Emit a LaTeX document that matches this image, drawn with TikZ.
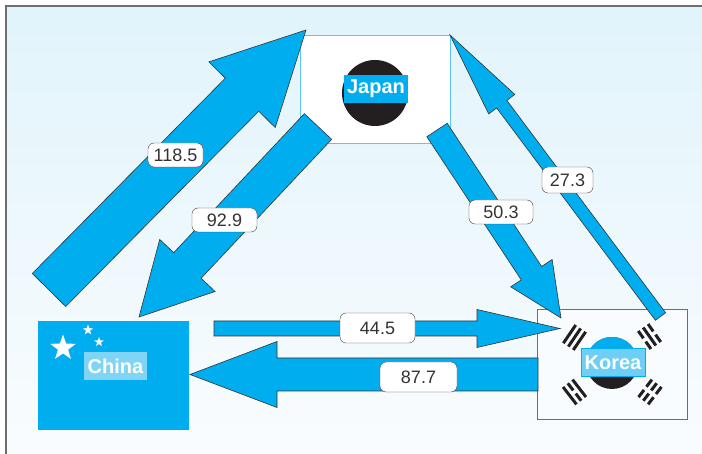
\documentclass[tikz,border=0pt]{standalone}
\usepackage{fontspec}
\setmainfont{Liberation Sans}
\usetikzlibrary{calc,shapes.geometric}
\definecolor{tradecyan}{HTML}{00AEEF}
\definecolor{namecyan}{HTML}{6DCFF6}
\definecolor{chinaname}{HTML}{80D5F7}
\definecolor{japanedge}{HTML}{5CC8F2}
\definecolor{inkblack}{HTML}{231F20}
\definecolor{edgegray}{HTML}{6D6E71}
\definecolor{bgtop}{HTML}{E1F4FB}
\definecolor{bgbottom}{HTML}{F9FCFE}

% block arrow: tail, tip, half shaft, half head, head length
\newcommand{\tradeflow}[5]{%
  \coordinate (neck) at ($(#2)!#5!(#1)$);
  \draw[flow] ($(#1)!#3!90:(#2)$) -- ($(neck)!#3!-90:(#1)$) -- ($(neck)!#4!-90:(#1)$) -- (#2)
    -- ($(neck)!#4!90:(#1)$) -- ($(neck)!#3!90:(#1)$) -- ($(#1)!#3!-90:(#2)$) -- cycle;}

\begin{document}
\begin{tikzpicture}[x=1pt, y=-1pt,
    flow/.style={fill=tradecyan, draw=black!80, line width=0.6pt, line join=miter},
    val/.style={draw=black!75, fill=white, text=black!80, rounded corners=6pt,
      font=\fontsize{18}{18}\selectfont, inner sep=0pt, minimum height=24pt},
    flagname/.style={text=white, font=\bfseries\fontsize{20}{20}\selectfont,
      inner xsep=3.5pt, inner ysep=0pt, minimum height=28pt},
    bars/.style={draw=inkblack, line width=3pt}]
	\useasboundingbox (0,0) rectangle (702,454);
	\shade[top color=bgtop, bottom color=bgbottom] (6,6) rectangle (702,454);
	\draw[edgegray, line width=1.2pt] (6,454) -- (6,6) -- (702,6);

	% flags
	\node[draw=japanedge, fill=white, line width=1pt, minimum width=150pt, minimum height=108pt] (japan) at (375,90) {};
	\node[circle, fill=inkblack, inner sep=0pt, minimum size=66pt] (sun) at (375,93) {};

	\node[fill=tradecyan, minimum width=151pt, minimum height=109pt] (china) at (113.5,375.5) {};
	\node[star, star points=5, star point ratio=2.5, fill=white, inner sep=0pt, minimum size=27pt] (bigstar) at (63,348) {};
	\node[star, star points=5, star point ratio=2.5, fill=white, inner sep=0pt, minimum size=11pt] (star1) at (88,330) {};
	\node[star, star points=5, star point ratio=2.5, fill=white, inner sep=0pt, minimum size=10pt] (star2) at (99,342) {};

	\node[draw=edgegray, fill=bgbottom, line width=0.8pt, minimum width=150pt, minimum height=110pt] (korea) at (612,364) {};
	\node[circle, fill=inkblack, inner sep=0pt, minimum size=52pt] (taeguk) at (612,363) {};
	\begin{scope}
		\clip (taeguk.west) rectangle (taeguk.north -| taeguk.east);
		\fill[tradecyan] (taeguk) circle[radius=26pt];
	\end{scope}
	\foreach \cx/\cy/\ang/\ga/\gb/\gc in {574.5/337.5/55.8/0/0/0, 649.5/336.5/-54.8/2/0/2,
	    574.5/392/-52.3/0/2/0, 650/392/52.7/2/2/2}{
		\begin{scope}[shift={(\cx,\cy)}, rotate=\ang]
			\foreach \off/\gap in {-6/\ga, 0/\gb, 6/\gc}
				\draw[bars] (-11,\off) -- (-\gap,\off) (\gap,\off) -- (11,\off);
		\end{scope}
	}

	% trade arrows
	\coordinate (cnjp-a) at (49,290);    \coordinate (cnjp-b) at (306,30);
	\coordinate (jpcn-a) at (318,126.5); \coordinate (jpcn-b) at (139,317);
	\coordinate (jpkr-a) at (437,130);   \coordinate (jpkr-b) at (561,318);
	\coordinate (krjp-a) at (660.5,316.5); \coordinate (krjp-b) at (450,35);
	\coordinate (cnkr-a) at (214,328.5); \coordinate (cnkr-b) at (560,328.5);
	\coordinate (krcn-a) at (538,374.5); \coordinate (krcn-b) at (190,374.5);
	\tradeflow{cnjp-a}{cnjp-b}{23.5pt}{46.7pt}{91pt}
	\tradeflow{jpcn-a}{jpcn-b}{18.75pt}{38pt}{70.7pt}
	\tradeflow{jpkr-a}{jpkr-b}{12.2pt}{24.8pt}{53.7pt}
	\tradeflow{krjp-a}{krjp-b}{6.35pt}{16.3pt}{86.4pt}
	\tradeflow{cnkr-a}{cnkr-b}{7.5pt}{19pt}{83pt}
	\tradeflow{krcn-a}{krcn-b}{16.5pt}{33pt}{87pt}

	% country names
	\node[flagname, fill=tradecyan] (japanname) at (376,89) {Japan};
	\node[flagname, fill=chinaname] (chinaname) at (115.5,366) {China};
	\node[flagname, fill=namecyan, draw=tradecyan, line width=0.6pt] (koreaname) at (613,362.5) {Korea};

	% values
	\node[val, minimum width=55pt] (v-cnjp) at (175.5,155) {118.5};
	\node[val, minimum width=65pt] (v-jpcn) at (224.5,220) {92.9};
	\node[val, minimum width=64pt] (v-jpkr) at (501,212) {50.3};
	\node[val, minimum width=51pt, minimum height=26pt] (v-krjp) at (567.5,180) {27.3};
	\node[val, minimum width=75pt, minimum height=30pt] (v-cnkr) at (377.5,328) {44.5};
	\node[val, minimum width=77pt, minimum height=30pt] (v-krcn) at (418.5,377) {87.7};
\end{tikzpicture}
\end{document}
